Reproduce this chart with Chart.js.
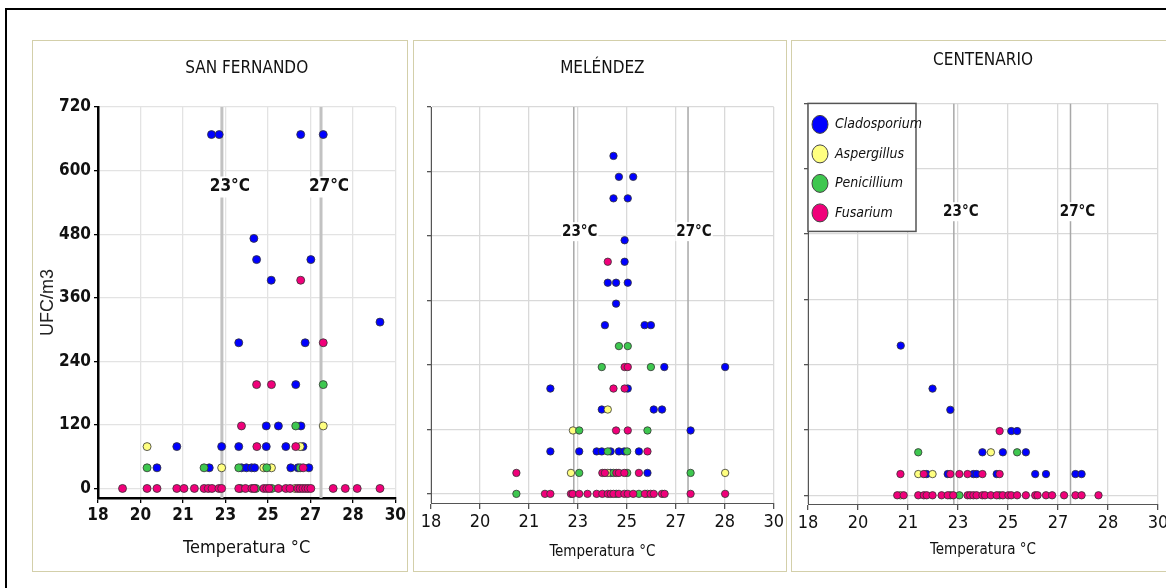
<!DOCTYPE html>
<html>
<head>
<meta charset="utf-8">
<script src="https://cdn.jsdelivr.net/npm/chart.js@4.4.1/dist/chart.umd.min.js"></script>
<style>
  html, body { margin: 0; padding: 0; background: #fff; overflow: hidden; width: 1166px; height: 588px; }
  .frame { position: absolute; left: 5px; top: 8px; width: 1200px; height: 620px; border-top: 2px solid #000; border-left: 2px solid #000; }
  .panel { position: absolute; box-sizing: border-box; border: 1px solid #d3cfaa; pointer-events: none; }
  canvas { position: absolute; }
</style>
</head>
<body>
<div class="frame"></div>
<canvas id="c1" width="376" height="532" style="left:32px;top:40px"></canvas>
<canvas id="c2" width="374" height="532" style="left:413px;top:40px"></canvas>
<canvas id="c3" width="400" height="532" style="left:791px;top:40px"></canvas>
<div class="panel" style="left:32px;top:40px;width:376px;height:532px"></div>
<div class="panel" style="left:413px;top:40px;width:374px;height:532px"></div>
<div class="panel" style="left:791px;top:40px;width:400px;height:532px"></div>
<script>
// axis + legend content
const sites = ['SAN FERNANDO', 'MELÉNDEZ', 'CENTENARIO'];
const species = ['Cladosporium', 'Aspergillus', 'Penicillium', 'Fusarium'];
const speciesColors = ['#0000FF', '#FFFF80', '#3EC74F', '#F0007A'];
const ufcTicks = [0, 120, 240, 360, 480, 600, 720];
const tempTickLabels = [18, 20, 21, 23, 25, 27, 28, 30];
const refTemps = [23, 27];
const refLabels = ['23°C', '27°C'];

// [temperature, UFC/m3]
const sanFernandoCladosporium = [
  [22.58, 668], [22.89, 668], [26.18, 668], [27.09, 668],
  [24.29, 472], [24.40, 432], [26.59, 432], [24.99, 393], [29.38, 314],
  [23.68, 275], [26.36, 275], [25.98, 196],
  [24.79, 118], [25.28, 118], [26.19, 118],
  [21.18, 79], [22.99, 79], [23.68, 79], [24.79, 79], [25.58, 79], [26.27, 79],
  [20.38, 39], [22.49, 39], [23.79, 39], [23.99, 39], [24.20, 39], [24.32, 39], [25.78, 39], [26.07, 39], [26.51, 39]
];
const sanFernandoAspergillus = [
  [27.09, 118], [19.98, 79], [26.16, 79], [22.99, 39], [24.69, 39], [25.00, 39], [25.95, 0]
];
const sanFernandoPenicillium = [
  [27.09, 196], [25.98, 118], [19.98, 39], [22.28, 39], [23.68, 39], [24.81, 39], [26.16, 39],
  [23.75, 0], [24.37, 0], [25.01, 0]
];
const sanFernandoFusarium = [
  [26.18, 393], [27.09, 275], [24.40, 196], [25.00, 196], [23.79, 118], [24.41, 79], [25.98, 79], [26.28, 39],
  [18.99, 0], [19.98, 0], [20.38, 0], [21.18, 0], [21.47, 0], [21.89, 0], [22.28, 0], [22.45, 0], [22.60, 0],
  [22.88, 0], [22.99, 0], [23.68, 0], [23.95, 0], [24.21, 0], [24.30, 0], [24.69, 0], [24.81, 0], [24.91, 0],
  [25.28, 0], [25.58, 0], [25.75, 0], [26.06, 0], [26.16, 0], [26.27, 0], [26.38, 0], [26.48, 0], [26.59, 0],
  [27.49, 0], [27.98, 0], [28.46, 0], [29.38, 0]
];

const melendezCladosporium = [
  [24.39, 629], [24.58, 590], [25.08, 590], [24.39, 550], [24.89, 550], [24.78, 472], [24.78, 432],
  [24.19, 393], [24.48, 393], [24.89, 393], [24.48, 354], [24.09, 314], [25.48, 314], [25.70, 314],
  [26.17, 236], [28.30, 236], [22.18, 196], [24.89, 196], [23.98, 157], [25.80, 157], [26.09, 157], [27.09, 118],
  [22.18, 79], [23.19, 79], [23.80, 79], [23.98, 79], [24.29, 79], [24.58, 79], [24.77, 79], [25.28, 79],
  [24.29, 39], [25.58, 39]
];
const melendezAspergillus = [
  [24.19, 157], [22.97, 118], [22.90, 39], [24.19, 39], [28.30, 39], [25.58, 0]
];
const melendezPenicillium = [
  [24.58, 275], [24.89, 275], [23.98, 236], [25.70, 236], [23.19, 118], [25.58, 118], [24.19, 79], [24.87, 79],
  [23.19, 39], [24.39, 39], [24.87, 39], [27.09, 39], [20.99, 0], [24.49, 0], [25.28, 0]
];
const melendezFusarium = [
  [24.19, 432], [24.78, 236], [24.89, 236], [24.39, 196], [24.78, 196], [24.48, 118], [24.89, 118], [25.58, 79],
  [20.99, 39], [24.00, 39], [24.09, 39], [24.49, 39], [24.58, 39], [24.77, 39], [25.28, 39],
  [21.99, 0], [22.18, 0], [22.90, 0], [22.96, 0], [23.19, 0], [23.48, 0], [23.80, 0], [24.00, 0], [24.19, 0],
  [24.29, 0], [24.39, 0], [24.58, 0], [24.77, 0], [24.89, 0], [25.08, 0], [25.49, 0], [25.69, 0], [25.80, 0],
  [26.09, 0], [26.18, 0], [27.09, 0], [28.30, 0]
];

const centenarioCladosporium = [
  [21.18, 275], [22.27, 196], [22.88, 157], [24.97, 118], [25.17, 118], [23.98, 79], [24.68, 79], [25.47, 79],
  [22.07, 39], [22.79, 39], [23.67, 39], [23.78, 39], [24.47, 39], [25.79, 39], [26.16, 39], [27.17, 39], [27.38, 39]
];
const centenarioAspergillus = [
  [24.27, 79], [21.78, 39], [22.27, 39], [21.17, 0]
];
const centenarioPenicillium = [
  [21.78, 79], [25.17, 79], [22.88, 0], [23.19, 0], [24.57, 0]
];
const centenarioFusarium = [
  [24.57, 118], [21.17, 39], [21.97, 39], [22.88, 39], [23.19, 39], [23.47, 39], [23.98, 39], [24.57, 39],
  [21.06, 0], [21.28, 0], [21.78, 0], [21.97, 0], [22.07, 0], [22.27, 0], [22.58, 0], [22.79, 0], [22.98, 0],
  [23.47, 0], [23.56, 0], [23.67, 0], [23.78, 0], [23.98, 0], [24.07, 0], [24.27, 0], [24.47, 0], [24.68, 0],
  [24.87, 0], [24.97, 0], [25.17, 0], [25.47, 0], [25.79, 0], [25.87, 0], [26.16, 0], [26.37, 0], [26.78, 0],
  [27.17, 0], [27.38, 0], [27.96, 0]
];

const NARROW = "'Liberation Sans Narrow', 'Arial Narrow', 'DejaVu Sans Condensed', sans-serif";

// 23°C / 27°C labels with white background
const refLabelPlugin = {
  id: 'refLabels',
  afterDatasetsDraw(chart, args, opts) {
    const {ctx, scales: {x, y}} = chart;
    ctx.save();
    ctx.font = 'bold ' + opts.size + 'px ' + NARROW;
    ctx.textAlign = 'center';
    ctx.textBaseline = 'middle';
    refTemps.forEach((t, i) => {
      const px = x.getPixelForValue(t) + opts.dx;
      const py = y.getPixelForValue(opts.y);
      const w = ctx.measureText(refLabels[i]).width;
      ctx.fillStyle = '#fff';
      ctx.fillRect(px - w / 2 - 1, py - opts.size / 2 - 2, w + 2, opts.size + 4);
      ctx.fillStyle = '#111';
      ctx.fillText(refLabels[i], px, py);
    });
    ctx.restore();
  }
};

// boxed legend in the top-left of the plot area
const speciesLegendPlugin = {
  id: 'speciesLegend',
  afterDraw(chart, args, opts) {
    if (!opts.show) return;
    const {ctx, chartArea} = chart;
    const left = chartArea.left, top = chartArea.top;
    ctx.save();
    ctx.fillStyle = '#fff';
    ctx.fillRect(left, top, 108, 128);
    ctx.strokeStyle = '#555';
    ctx.lineWidth = 1.5;
    ctx.strokeRect(left, top, 108, 128);
    ctx.font = 'italic 14px ' + NARROW;
    ctx.textBaseline = 'middle';
    species.forEach((name, i) => {
      const cy = top + 21 + i * 29.5;
      ctx.beginPath();
      ctx.ellipse(left + 12, cy, 8, 9, 0, 0, Math.PI * 2);
      ctx.fillStyle = speciesColors[i];
      ctx.fill();
      ctx.strokeStyle = '#444';
      ctx.lineWidth = 1;
      ctx.stroke();
      ctx.fillStyle = '#111';
      ctx.fillText(name, left + 27, cy);
    });
    ctx.restore();
  }
};

function buildChart(id, site, series, cfg) {
  const datasets = series.map((pts, i) => ({
    label: species[i],
    data: pts.map(p => ({x: p[0], y: p[1]})),
    backgroundColor: speciesColors[i],
    borderColor: '#333',
    borderWidth: 0.8,
    pointRadius: cfg.pointRadius,
    order: 3 - i
  }));
  refTemps.forEach(t => datasets.push({
    type: 'line',
    label: t + '°C',
    data: [{x: t, y: cfg.yMin}, {x: t, y: 720}],
    borderColor: cfg.refColor,
    borderWidth: cfg.refWidth,
    pointRadius: 0,
    showLine: true,
    fill: false,
    order: 10
  }));

  return new Chart(document.getElementById(id), {
    type: 'scatter',
    data: { datasets },
    plugins: [refLabelPlugin, speciesLegendPlugin],
    options: {
      responsive: false,
      animation: false,
      events: [],
      layout: { padding: { left: 0, right: cfg.padRight, top: 0, bottom: 0 } },
      plugins: {
        legend: { display: false },
        tooltip: { enabled: false },
        title: {
          display: true,
          fullSize: false,
          text: site,
          color: '#111',
          font: { family: NARROW, size: 17, weight: 'normal', lineHeight: 1.2 },
          padding: { top: cfg.titleTop, bottom: cfg.titleBottom }
        },
        refLabels: { y: cfg.labelY, dx: cfg.labelDx, size: cfg.labelSize },
        speciesLegend: { show: !!cfg.legend }
      },
      scales: {
        x: {
          type: 'linear',
          min: 18,
          max: 30,
          afterBuildTicks: s => { s.ticks = tempTickLabels.map((l, i) => ({ value: 18 + i * 12 / 7 })); },
          afterFit: s => { s.height = cfg.xHeight; },
          ticks: {
            autoSkip: false,
            maxRotation: 0,
            padding: cfg.xTickPad,
            color: '#111',
            font: { family: NARROW, size: cfg.xTickSize, weight: cfg.tickWeight },
            callback: (v, i) => tempTickLabels[i]
          },
          grid: { color: cfg.gridColor, lineWidth: 1.3, tickLength: cfg.xTickLen, tickColor: cfg.axisColor, tickWidth: 1.3 },
          border: { display: true, color: cfg.axisColor, width: cfg.axisWidth },
          title: {
            display: true,
            text: 'Temperatura °C',
            color: '#111',
            font: { family: NARROW, size: cfg.xTitleSize, lineHeight: 1.2 },
            padding: { top: 2, bottom: cfg.xTitlePad }
          }
        },
        y: {
          min: cfg.yMin,
          max: 720,
          afterBuildTicks: s => { s.ticks = ufcTicks.map(v => ({ value: v })); },
          afterFit: s => { s.width = cfg.yWidth; },
          ticks: {
            display: cfg.showYLabels,
            padding: 3,
            color: '#111',
            font: { family: NARROW, size: 17, weight: 'bold' }
          },
          grid: { color: cfg.gridColor, lineWidth: 1.3, tickLength: 4, tickColor: cfg.axisColor },
          border: { display: true, color: cfg.axisColor, width: cfg.axisWidth },
          title: {
            display: cfg.showYLabels,
            text: 'UFC/m3',
            color: '#222',
            font: { family: "'Liberation Sans', Arial, sans-serif", size: 18, lineHeight: 1.2 },
            padding: { top: 5, bottom: 0 }
          }
        }
      }
    }
  });
}

buildChart('c1', sites[0],
  [sanFernandoCladosporium, sanFernandoAspergillus, sanFernandoPenicillium, sanFernandoFusarium],
  { yWidth: 66, xHeight: 74, padRight: 10, titleTop: 18, titleBottom: 28.6, yMin: -18,
    axisColor: '#000', axisWidth: 2.5, gridColor: '#e3e3e3', refColor: '#c2c2c2', refWidth: 3,
    xTickSize: 17, tickWeight: 'bold', xTickLen: 5, xTickPad: 2, xTitleSize: 18, xTitlePad: 13,
    showYLabels: true, labelY: 569, labelDx: 8, labelSize: 17, pointRadius: 4 });

buildChart('c2', sites[1],
  [melendezCladosporium, melendezAspergillus, melendezPenicillium, melendezFusarium],
  { yWidth: 18, xHeight: 69, padRight: 11, titleTop: 18, titleBottom: 28.6, yMin: -17,
    axisColor: '#555', axisWidth: 1, gridColor: '#d9d9d9', refColor: '#a8a8a8', refWidth: 1.5,
    xTickSize: 18, tickWeight: 'normal', xTickLen: 6, xTickPad: 3, xTitleSize: 15, xTitlePad: 11.2,
    showYLabels: false, labelY: 488, labelDx: 6, labelSize: 15, pointRadius: 3.7 });

buildChart('c3', sites[2],
  [centenarioCladosporium, centenarioAspergillus, centenarioPenicillium, centenarioFusarium],
  { yWidth: 17, xHeight: 68, padRight: 33, titleTop: 10, titleBottom: 33, yMin: -16,
    axisColor: '#555', axisWidth: 1, gridColor: '#d9d9d9', refColor: '#a8a8a8', refWidth: 1.5,
    xTickSize: 18, tickWeight: 'normal', xTickLen: 6, xTickPad: 3, xTitleSize: 15, xTitlePad: 13,
    showYLabels: false, labelY: 521, labelDx: 7, labelSize: 15, pointRadius: 3.7, legend: true });
</script>
</body>
</html>
